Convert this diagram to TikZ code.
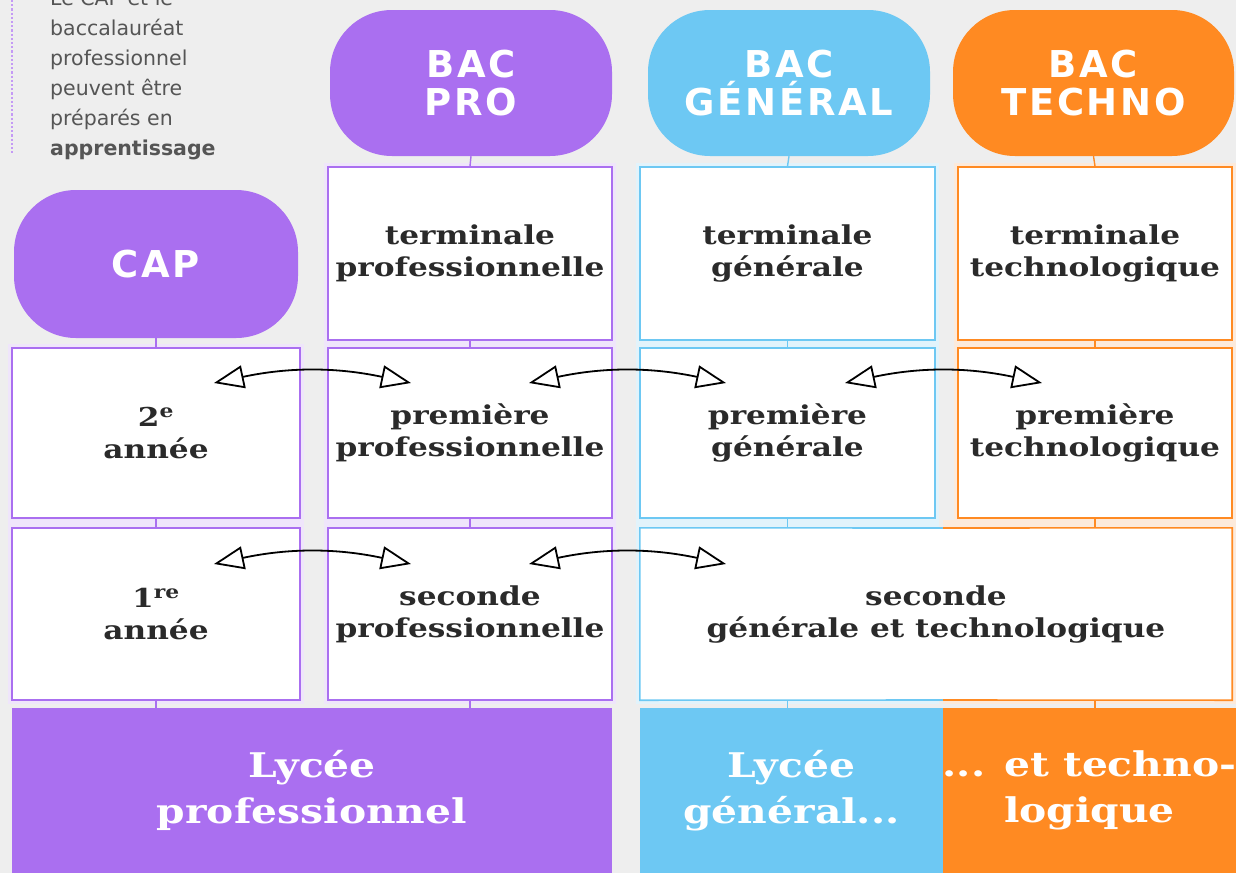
\documentclass[tikz,border=0pt]{standalone}
\usepackage{fontspec}
\setmainfont{DejaVu Serif}[FakeStretch=1.2]
\newfontfamily\headfont{DejaVu Sans}[LetterSpace=7]
\newfontfamily\notefont{DejaVu Sans}
\usetikzlibrary{arrows.meta,calc}
\definecolor{bg}{HTML}{EEEEEE}
\definecolor{pur}{HTML}{AA6FF0}
\definecolor{blu}{HTML}{6DC8F3}
\definecolor{ora}{HTML}{FF8A22}
\definecolor{purpale}{HTML}{EFE5FB}
\definecolor{blupale}{HTML}{E2F3FB}
\definecolor{orapale}{HTML}{FCEADB}
\definecolor{ink}{HTML}{2A2A2A}
\definecolor{notegray}{HTML}{555555}
\begin{document}
\begin{tikzpicture}[x=1pt,y=-1pt,
  cell/.style={draw=#1, line width=1.6pt, fill=white, align=center, inner sep=0pt,
    text=ink, font=\bfseries\fontsize{26}{32}\selectfont},
  bubble/.style={fill=#1, rounded corners=62pt, text=white, align=center, inner sep=0pt,
    font=\headfont\bfseries\fontsize{37}{38}\selectfont},
  base/.style={fill=#1, text=white, align=center, inner sep=0pt,
    font=\bfseries\fontsize{34}{46}\selectfont},
  tick/.style={draw=#1, line width=1.4pt},
  swap/.style={draw=black, line width=1.8pt,
    {Triangle[length=30pt,width=23pt,fill=white]}-{Triangle[length=30pt,width=23pt,fill=white]}}
]
\useasboundingbox (0,0) rectangle (1236,873);
\fill[bg] (0,0) rectangle (1236,873);
% pale column bands
\fill[purpale] (8,344) rectangle (304,704);
\fill[purpale] (324,163) rectangle (616,704);
\fill[blupale] (636,163) rectangle (939,704);
\fill[orapale] (954,163) rectangle (1236,704);
\fill[orapale] (943,520) rectangle (1236,704);

% note
\draw[pur!70, dotted, line width=2.2pt] (12,0) -- (12,155);
\node[anchor=south west, inner sep=0pt, align=left, text=notegray,
  font=\notefont\fontsize{20.5}{30}\selectfont] (note) at (50,160)
  {Le CAP et le\\baccalauréat\\professionnel\\peuvent être\\préparés en\\\textbf{apprentissage}};

% bubbles
\node[bubble=pur, minimum width=282pt, minimum height=146pt] (bacpro) at (471,83) {BAC\\PRO};
\node[bubble=blu, minimum width=282pt, minimum height=146pt] (bacgen) at (789,83) {BAC\\GÉNÉRAL};
\node[bubble=ora, minimum width=281pt, minimum height=146pt] (bactech) at (1093.5,83) {BAC\\TECHNO};
\node[bubble=pur, minimum width=284pt, minimum height=148pt] (cap) at (156,264) {CAP};

% terminale row
\node[cell=pur, minimum width=284pt, minimum height=173pt] (tpro) at (470,253.5) {terminale\\professionnelle};
\node[cell=blu, minimum width=295pt, minimum height=173pt] (tgen) at (787.5,253.5) {terminale\\générale};
\node[cell=ora, minimum width=274pt, minimum height=173pt] (ttech) at (1095,253.5) {terminale\\technologique};

% premiere row
\node[cell=pur, minimum width=288pt, minimum height=170pt] (a2) at (156,433) {2\textsuperscript{e}\\année};
\node[cell=pur, minimum width=284pt, minimum height=170pt] (ppro) at (470,433) {première\\professionnelle};
\node[cell=blu, minimum width=295pt, minimum height=170pt] (pgen) at (787.5,433) {première\\générale};
\node[cell=ora, minimum width=274pt, minimum height=170pt] (ptech) at (1095,433) {première\\technologique};

% seconde row
\node[cell=pur, minimum width=288pt, minimum height=172pt] (a1) at (156,614) {1\textsuperscript{re}\\année};
\node[cell=pur, minimum width=284pt, minimum height=172pt] (spro) at (470,614) {seconde\\professionnelle};
\node[fill=white, align=center, inner sep=0pt, text=ink, font=\bfseries\fontsize{26}{32}\selectfont,
  minimum width=592pt, minimum height=172pt] (sgt) at (936,614) {seconde\\générale et technologique};
\draw[blu, line width=1.6pt] (943,528) -- (sgt.north west) -- (sgt.south west) -- (943,700);
\draw[ora, line width=1.6pt] (943,528) -- (sgt.north east) -- (sgt.south east) -- (943,700);

% bottom blocks
\node[base=pur, minimum width=600pt, minimum height=165pt] (lp) at (312,790.5) {Lycée\\professionnel};
\node[base=blu, minimum width=303pt, minimum height=165pt] (lg) at (791.5,790.5) {Lycée\\général...};
\node[base=ora, minimum width=293pt, minimum height=165pt] (lt) at (1089.5,790.5) {... et techno-\\logique};

% vertical ticks
\draw[tick=pur] (bacpro.south) -- (tpro.north);
\draw[tick=pur] (tpro.south) -- (ppro.north);
\draw[tick=pur] (ppro.south) -- (spro.north);
\draw[tick=pur] (spro.south) -- (spro.south |- lp.north);
\draw[tick=pur] (cap.south) -- (a2.north);
\draw[tick=pur] (a2.south) -- (a1.north);
\draw[tick=pur] (a1.south) -- (a1.south |- lp.north);
\draw[tick=blu] (bacgen.south) -- (tgen.north);
\draw[tick=blu] (tgen.south) -- (pgen.north);
\draw[tick=blu] (pgen.south) -- (pgen.south |- sgt.north);
\draw[tick=blu] (pgen.south |- sgt.south) -- (pgen.south |- lg.north);
\draw[tick=ora] (bactech.south) -- (ttech.north);
\draw[tick=ora] (ttech.south) -- (ptech.north);
\draw[tick=ora] (ptech.south) -- (ptech.south |- sgt.north);
\draw[tick=ora] (ptech.south |- sgt.south) -- (ptech.south |- lt.north);

% exchange arrows
\coordinate (p1l) at (214,383); \coordinate (p1r) at (411,383);
\coordinate (p2l) at (529,383); \coordinate (p2r) at (726,383);
\coordinate (p3l) at (845,383); \coordinate (p3r) at (1042,383);
\coordinate (s1l) at (214,564); \coordinate (s1r) at (411,564);
\coordinate (s2l) at (529,564); \coordinate (s2r) at (726,564);
\draw[swap] (p1l) to[bend left=12] (p1r);
\draw[swap] (p2l) to[bend left=12] (p2r);
\draw[swap] (p3l) to[bend left=12] (p3r);
\draw[swap] (s1l) to[bend left=12] (s1r);
\draw[swap] (s2l) to[bend left=12] (s2r);
\end{tikzpicture}
\end{document}
